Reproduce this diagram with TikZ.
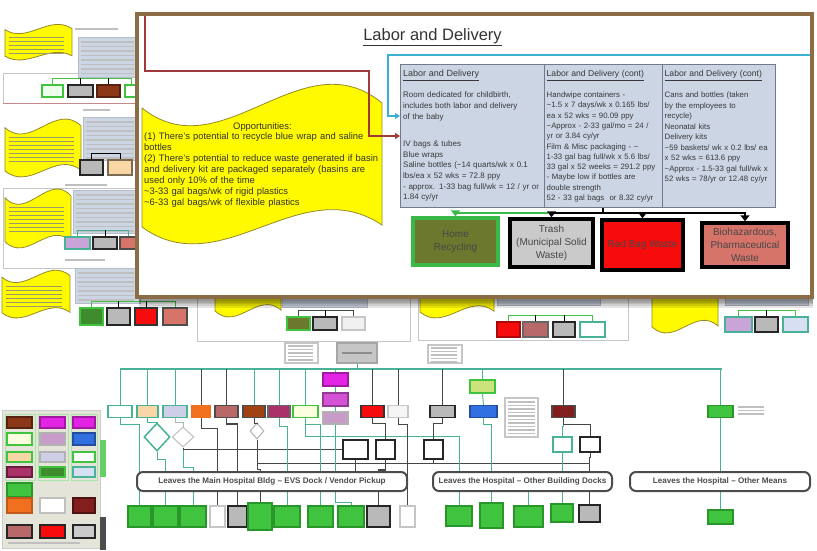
\documentclass[tikz,border=0pt]{standalone}
\usepackage{fontspec}
\setmainfont{Liberation Sans}
\usetikzlibrary{shapes.geometric,arrows.meta}

% colours
\definecolor{framebrown}{RGB}{140,108,68}
\definecolor{tablefill}{RGB}{204,213,228}
\definecolor{tableline}{RGB}{112,122,140}
\definecolor{wirered}{RGB}{160,56,60}
\definecolor{wirecyan}{RGB}{58,176,210}
\definecolor{wiregray}{RGB}{70,70,70}
\definecolor{homeolive}{RGB}{108,120,46}
\definecolor{homegreen}{RGB}{58,184,72}
\definecolor{trashgray}{RGB}{202,202,202}
\definecolor{bagred}{RGB}{246,12,12}
\definecolor{biosalmon}{RGB}{214,116,106}
\definecolor{oppyellow}{RGB}{255,250,0}
\definecolor{oppedge}{RGB}{150,138,40}
\definecolor{busteal}{RGB}{72,178,150}
\definecolor{bingreen}{RGB}{64,196,64}
\definecolor{binedge}{RGB}{40,150,40}
\definecolor{peach}{RGB}{248,214,166}
\definecolor{lavgray}{RGB}{206,206,230}
\definecolor{rose}{RGB}{184,104,104}
\definecolor{rust}{RGB}{160,66,18}
\definecolor{rustbrown}{RGB}{140,56,24}
\definecolor{plum}{RGB}{170,50,104}
\definecolor{cream}{RGB}{252,252,222}
\definecolor{royal}{RGB}{48,112,224}
\definecolor{maroon}{RGB}{130,30,30}
\definecolor{lilac}{RGB}{200,164,216}
\definecolor{paleblue}{RGB}{214,224,242}
\definecolor{leafgreen}{RGB}{62,140,46}
\definecolor{legendbg}{RGB}{228,228,216}
\definecolor{magA}{RGB}{228,36,228}
\definecolor{magB}{RGB}{212,82,212}
\definecolor{magC}{RGB}{200,156,200}
\definecolor{limefill}{RGB}{204,226,122}
\definecolor{tangerine}{RGB}{240,112,32}

\tikzset{
  tinybox/.style={draw,line width=1.1pt,inner sep=0pt},
  scribble/.style={black!25,line width=1.2pt},
  blobscribble/.style={olive!55!black!60,line width=0.8pt},
  blobfill/.style={fill=oppyellow,draw=oppedge,line width=0.8pt},
  tealwire/.style={busteal,line width=0.9pt},
  graywire/.style={wiregray,line width=0.9pt},
  leavesbox/.style={draw=black!70,line width=2pt,rounded corners=6pt,fill=white,
    minimum height=19,inner sep=0pt,text=black!70,
    font=\fontsize{8.1}{9}\selectfont\bfseries},
  tablebox/.style={draw=tableline,fill=tablefill,line width=0.8pt,inner sep=0pt,anchor=north west},
  tabtext/.style={anchor=north west,align=left,text width=170pt,inner sep=0pt,text=black!78},
  opptext/.style={anchor=north west,align=left,text width=250pt,inner sep=0pt,text=black!80,
    font=\fontsize{9.4}{10.9}\selectfont},
  binbox/.style={draw=black,line width=3.5pt,inner sep=1pt,align=center,text=black!72,
    font=\fontsize{10}{13.3}\selectfont},
  binwire/.style={black,line width=2.6pt},
}

\newcommand{\apx}{\textasciitilde}
\newcommand{\blobpath}{(0,21) .. controls (80,85) and (160,-50) .. (240,16)
  -- (240,138) .. controls (158,83) and (80,198) .. (0,140) -- cycle}
\newcommand{\oppblob}[5][]{\begin{scope}[shift={(#2,#3)},xscale=#4/240,yscale=#5/157]
  \filldraw[blobfill,#1] \blobpath; \end{scope}}
\newcommand{\scrib}[6][scribble]{\foreach \k in {0,...,#6}{\draw[#1] (#2,{#3+\k*#5}) -- (#4,{#3+\k*#5});}}

\begin{document}
\begin{tikzpicture}[x=1pt,y=-1pt,>={Triangle[length=6pt,width=9pt]}]
\useasboundingbox (0,0) rectangle (817,550);

% ---------- background: the whole waste map ----------
% panel outlines
\draw[gray!45] (3,73) rectangle (137,103);
\draw[wirered!60] (3,103) -- (137,103);
\draw[gray!45] (3,188) rectangle (137,268);
\draw[gray!45] (197,280) rectangle (410,341);
\draw[gray!45] (418,280) rectangle (628,340);

% small tables
\foreach \xa/\ya/\xb/\yb in {78/37/140/77,83/117/140/160,73/190/140/233,75/268/140/303,282/290/367/307,497/290/600/305,725/290/808/305}
  \draw[tableline!50,fill=tablefill] (\xa,\ya) rectangle (\xb,\yb);
\scrib{81}{42}{134}{4.5}{7}
\scrib{86}{122}{134}{4.5}{8}
\scrib{76}{195}{134}{4.5}{8}
\scrib{78}{273}{134}{4.5}{6}
\foreach \xa/\xb/\yy in {75/118/29,83/110/110,65/107/185,65/105/260}
  \draw[scribble] (\xa,\yy) -- (\xb,\yy);

% yellow notes
\oppblob{5}{25}{67}{35}
\oppblob{5}{120}{76}{57}
\oppblob{5}{190}{66}{58}
\oppblob{2}{271}{68}{47}
\oppblob{215}{260}{66}{57}
\oppblob{420}{262}{74}{56}
\oppblob{652}{275}{66}{58}
\scrib[blobscribble]{9}{37}{64}{4}{4}
\scrib[blobscribble]{9}{137}{74}{4}{6}
\scrib[blobscribble]{9}{207}{64}{4}{6}
\scrib[blobscribble]{6}{286}{62}{4}{5}

% bins of the small panels
\foreach \x/\y/\w/\h/\fc/\dc [count=\i] in {
  52.5/91/21/12/green!8/bingreen, 80.5/91/25/12/gray!55/black!85,
  108.5/91/23/12/rustbrown/rustbrown!60!black, 131/91/12/12/white/bingreen,
  91.5/167.5/23/15/gray!55/black!85, 120/167.5/24/15/peach/peach!50!black,
  77.5/243/25/12/lilac/busteal, 105/243/24/12/gray!55/black!85, 128/243/16/12/biosalmon/black!70,
  91.5/316.5/23/17/leafgreen/bingreen, 118.5/316.5/23/17/gray!55/black!85,
  146/316.5/22/17/bagred/black!80, 175/316.5/24/17/biosalmon/black!70,
  298.5/323.5/23/13/homeolive/bingreen, 325/323.5/24/13/gray!55/black!85, 353.5/323.5/23/13/gray!12/gray!45,
  508.5/329.5/23/15/bagred/bagred!70!black, 535.5/329.5/25/15/rose/black!60,
  564/329.5/22/15/gray!55/black!85, 592.5/329.5/25/15/white/busteal,
  738.5/324.5/27/15/lilac/busteal, 766.5/324.5/23/15/gray!55/black!85, 795.5/324.5/25/15/paleblue/busteal}
  \node[tinybox,fill=\fc,draw=\dc,minimum width=\w,minimum height=\h] (p\i) at (\x,\y) {};
\foreach \a/\b/\c in {1/4/bingreen,5/6/black,7/9/busteal,10/13/bingreen,14/16/wiregray,17/20/bingreen,21/23/bingreen}
  \draw[\c,line width=1pt] (p\a.north) -- ++(0,-6) -| (p\b.north);
\foreach \a in {2,3,8,11,12,15,18,19,22}
  \draw[line width=1pt] (p\a.north) -- ++(0,-6);

% legend
\draw[gray!40,fill=legendbg] (2,410) rectangle (100,548);
\foreach \xa/\xb in {5/35,38/68,71/97}
  \draw[bingreen!45] (\xa,414) rectangle (\xb,480);
\fill[bingreen!80] (100,440) rectangle (106,477);
\fill[black!70] (100,517) rectangle (106,550);
\foreach \x/\y/\w/\h/\fc/\dc [count=\i] in {
  19.5/422.5/25/11/rustbrown/rustbrown!60!black, 52.5/422.5/25/11/magA/magA!70!black, 84/422.5/22/11/magA/magA!70!black,
  19.5/439/25/12/cream/bingreen, 52.5/439/25/12/magC/gray!60, 84/439/22/12/royal/royal!70!black,
  19.5/457/25/10/peach/bingreen, 52.5/457/25/10/lavgray/gray!60, 84/457/22/10/white/bingreen,
  19.5/472/25/10/plum/plum!60!black, 52.5/472/25/10/leafgreen/bingreen, 84/472/22/10/paleblue/busteal,
  19.5/490/25/14/bingreen/binedge,
  19.5/505.5/25/15/tangerine/tangerine!80!black, 52.5/505.5/25/15/white/gray!50, 84/505.5/22/15/maroon/maroon!60!black,
  19.5/531.5/25/13/rose/black!85, 52.5/531.5/25/13/bagred/black!85, 84/531.5/22/13/trashgray/black!85}
  \node[tinybox,fill=\fc,draw=\dc,minimum width=\w,minimum height=\h] (leg\i) at (\x,\y) {};
\draw[scribble] (8,543) -- (80,543);

% collection bus
\coordinate (busL) at (120,369);
\coordinate (busR) at (722,369);
\draw[tealwire,line width=1.1pt] (busL) -- (busR);

% notes above the bus
\node[tinybox,draw=gray!45,fill=white,minimum width=33,minimum height=20] (note1) at (301.5,353) {};
\node[tinybox,draw=gray!70,fill=gray!45,minimum width=40,minimum height=20] (hub) at (357,353) {};
\node[tinybox,draw=gray!45,fill=white,minimum width=34,minimum height=18] (note2) at (445,354) {};
\node[tinybox,draw=gray!45,fill=white,minimum width=33,minimum height=39] (note3) at (521.5,417.5) {};
\scrib{288}{346}{313}{3.5}{4}
\scrib{431}{348}{457}{3.5}{4}
\scrib{508}{402}{535}{3.5}{9}
\scrib{738}{407}{764}{3.5}{2}
\draw[black!45,line width=1.5pt] ([xshift=6pt]hub.west) -- ([xshift=-6pt]hub.east);
\draw[tealwire] (hub.south) -- (hub.south |- busL);

% sources
\foreach \n/\x/\w/\fc/\dc in {a/120/24/white/busteal, b/147.5/21/peach/busteal, c/175/24/lavgray/busteal,
  d/201/18/tangerine/tangerine, e/226.5/23/rose/black!70, f/254/22/rust/black!70, g/279/22/plum/black!60,
  h/305.5/25/cream/bingreen, j/372.5/23/bagred/black!80, k/398/20/gray!8/gray!45, l/442.5/25/gray!55/black!85,
  m/483.5/27/royal/royal!70!black, n/563.5/23/maroon/black!70, o/720.5/25/bingreen/binedge}
  \node[tinybox,fill=\fc,draw=\dc,minimum width=\w,minimum height=12] (top\n) at (\x,411.5) {};
\foreach \n/\c in {a/tealwire,b/tealwire,c/tealwire,d/graywire,e/graywire,f/tealwire,g/tealwire,
  h/tealwire,j/graywire,k/graywire,l/graywire,n/graywire,o/tealwire}
  \draw[\c] (top\n.north) -- (top\n.north |- busL);

\node[tinybox,fill=magA,draw=magA!70!black,minimum width=25,minimum height=13] (mag1) at (335.5,379.5) {};
\node[tinybox,fill=magB,draw=magB!70!black,minimum width=25,minimum height=13] (mag2) at (335.5,399.5) {};
\node[tinybox,fill=magC,draw=gray!60,minimum width=25,minimum height=12] (mag3) at (335.5,418) {};
\node[tinybox,fill=limefill,draw=bingreen,minimum width=25,minimum height=13] (limebox) at (482.5,386.5) {};
\draw[tealwire] (mag1.north) -- (mag1.north |- busL);
\draw[tealwire] (mag1.south) -- (mag2.north);
\draw[tealwire] (mag2.south) -- (mag3.north);
\draw[tealwire] (limebox.north) -- (limebox.north |- busL);
\draw[tealwire] (limebox.south) -- (topm.north);

% decisions and sorting points
\node[diamond,draw=busteal,line width=1.5pt,fill=white,minimum width=26,minimum height=28,inner sep=0pt] (dia1) at (157,437) {};
\node[diamond,draw=gray!50,line width=1pt,fill=white,minimum width=22,minimum height=20,inner sep=0pt] (dia2) at (183,437) {};
\node[diamond,draw=gray!60,line width=1pt,fill=white,minimum width=14,minimum height=16,inner sep=0pt] (dia3) at (257,431) {};
\node[tinybox,fill=white,draw=black!85,line width=1.5pt,minimum width=25,minimum height=19] (kbox1) at (355.5,449.5) {};
\node[tinybox,fill=white,draw=black!85,line width=1.5pt,minimum width=19,minimum height=19] (kbox2) at (385.5,449.5) {};
\node[tinybox,fill=white,draw=black!85,line width=1.5pt,minimum width=19,minimum height=19] (kbox3) at (433.5,449.5) {};
\node[tinybox,fill=white,draw=busteal,line width=1.3pt,minimum width=19,minimum height=15] (tbox4) at (562.5,444.5) {};
\node[tinybox,fill=white,draw=black!85,line width=1.5pt,minimum width=20,minimum height=15] (kbox5) at (590,444.5) {};

% destinations
\foreach \n/\x/\y/\w/\h/\fc/\dc in {1/139.5/516.5/23/21/bingreen/binedge, 2/165.5/516.5/25/21/bingreen/binedge,
  3/193/516.5/26/21/bingreen/binedge, 4/217.5/516.5/15/21/white/gray!45, 5/237.5/516.5/19/21/gray!55/black!85,
  6/260/516.5/24/27/bingreen/binedge, 7/287/516.5/26/21/bingreen/binedge, 8/320.5/516.5/25/21/bingreen/binedge,
  9/351/516.5/26/21/bingreen/binedge, 10/378.5/516.5/23/21/gray!55/black!85, 11/407.5/516.5/15/21/white/gray!45,
  12/459/516/26/20/bingreen/binedge, 13/491.5/515.5/23/25/bingreen/binedge, 14/528.5/516.5/29/21/bingreen/binedge,
  15/562/513/22/18/bingreen/binedge, 16/589.5/513.5/21/17/gray!55/black!85, 17/720.5/517/25/14/bingreen/binedge}
  \node[tinybox,fill=\fc,draw=\dc,minimum width=\w,minimum height=\h] (bot\n) at (\x,\y) {};

% flows
\draw[tealwire] (topa.south) -- ++(0,6) -| (bot1.north);
\draw[tealwire] (topb.south) -- ++(0,4) -| (dia1.north);
\draw[tealwire] (dia1.south) -- ++(0,8) -| (bot2.north);
\draw[gray!60] (topc.south) -- ++(0,4) -| (dia2.north);
\draw[tealwire] (dia2.south) -- ++(0,20) -| (bot3.north);
\draw[graywire] (dia2.south) |- (kbox1.west);
\draw[graywire] (topd.south) -- ++(0,10) -| (bot4.north);
\draw[graywire,line width=1.6pt] (tope.south) -- ++(0,6) -| (bot5.north);
\draw[graywire] (topf.south) -- ++(0,5) -| (dia3.north);
\draw[graywire] (dia3.south) -- ++(0,30) -| (bot6.north);
\draw[graywire] (dia3.south) -- ++(0,24) -| (kbox3.south);
\draw[graywire] (kbox3.south) -- ++(0,4) -| (bot16.north);
\draw[tealwire] (topg.south) -- ++(0,8) -| (bot7.north);
\draw[tealwire] (toph.south) -- ++(0,6) -| (bot8.north);
\draw[tealwire] (toph.south) -- ++(0,18) -| (bot12.north);
\draw[tealwire] (mag3.south) -- ++(0,78) -| (bot9.north);
\draw[graywire] (topj.south) -- ++(0,5) -| (kbox2.north);
\draw[graywire,line width=1.6pt] (kbox2.south) -- ++(0,10) -| (bot10.north);
\draw[graywire] (topk.south) -- ++(0,6) -| (bot11.north);
\draw[graywire] (topl.south) -- ++(0,5) -| (kbox3.north);
\draw[tealwire] (topm.south) -- ++(0,6) -| (bot13.north);
\draw[tealwire] (topn.south) -- ++(0,8) -| (tbox4.north);
\draw[graywire] (topn.south) -- ++(0,6) -| (kbox5.north);
\draw[tealwire] (tbox4.south) -- ++(0,5) -| (bot15.north);
\draw[graywire] (kbox5.south) -- ++(0,5) -| (bot16.north);
\draw[tealwire] (topo.south) -- (bot17.north);

% how the waste leaves
\node[leavesbox,minimum width=270] (leaves1) at (272,481.5) {Leaves the Main Hospital Bldg -- EVS Dock / Vendor Pickup};
\node[leavesbox,minimum width=179] (leaves2) at (522.5,481.5) {Leaves the Hospital -- Other Building Docks};
\node[leavesbox,minimum width=180] (leaves3) at (720,481.5) {Leaves the Hospital -- Other Means};
\draw[graywire] (kbox1.south) -- (kbox1.south |- leaves1.north);
\draw[tealwire] (leaves2.south -| bot14) -- (bot14.north);

% ---------- callout: Labor and Delivery ----------
% soft shadow under the callout
\foreach \k in {0,...,5}
  \fill[black,opacity=0.1] (139,297) rectangle (813,{299+\k*1.8});
\draw[framebrown,line width=4pt,fill=white] (137,14) rectangle (812,297);
\coordinate (redtop) at (145,16);
\coordinate (cyanend) at (810,55);

\node[font=\fontsize{16.5}{20}\selectfont,text=black!80,inner sep=0pt] (title) at (432.5,37) {\underline{Labor and Delivery}};

% opportunities note
\oppblob{142}{87}{240}{157}
\node[opptext] (opp) at (144,122) {\hspace*{89pt}Opportunities:\\
(1) There's potential to recycle blue wrap and saline\\
bottles\\
(2) There's potential to reduce waste generated if basin\\
and delivery kit are packaged separately (basins are\\
used only 10\% of the time\\
\apx 3-33 gal bags/wk of rigid plastics\\
\apx 6-33 gal bags/wk of flexible plastics};

% waste table
\node[tablebox,minimum width=375,minimum height=143] (tbl) at (400,64) {};
\draw[tableline,line width=1pt] ([xshift=144pt]tbl.north west) -- ([xshift=144pt]tbl.south west);
\draw[tableline,line width=1pt] ([xshift=262pt]tbl.north west) -- ([xshift=262pt]tbl.south west);
\node[tabtext,font=\fontsize{8}{10.6}\selectfont] (colA) at ([xshift=3pt,yshift=-6pt]tbl.north west)
  {{\fontsize{9}{10.6}\selectfont\underline{Labor and Delivery}}\\[10.6pt]
   Room dedicated for childbirth,\\
   includes both labor and delivery\\
   of the baby\\[17pt]
   IV bags \& tubes\\
   Blue wraps\\
   Saline bottles (\apx 14 quarts/wk x 0.1\\
   lbs/ea x 52 wks = 72.8 ppy\\
   - approx. 1-33 bag full/wk = 12 / yr or\\
   1.84 cy/yr};
\node[tabtext,font=\fontsize{7.8}{10.3}\selectfont] (colB) at ([xshift=146.5pt,yshift=-6.5pt]tbl.north west)
  {{\fontsize{8.6}{10.3}\selectfont\underline{Labor and Delivery (cont)}}\\[10.3pt]
   Handwipe containers -\\
   \apx 1.5 x 7 days/wk x 0.165 lbs/\\
   ea x 52 wks = 90.09 ppy\\
   \apx Approx - 2-33 gal/mo = 24 /\\
   yr or 3.84 cy/yr\\
   Film \& Misc packaging - \apx\\
   1-33 gal bag full/wk x 5.6 lbs/\\
   33 gal x 52 weeks = 291.2 ppy\\
   - Maybe low if bottles are\\
   double strength\\
   52 - 33 gal bags\ \ or 8.32 cy/yr};
\node[tabtext,font=\fontsize{7.8}{10.5}\selectfont] (colC) at ([xshift=264.5pt,yshift=-6.5pt]tbl.north west)
  {{\fontsize{8.6}{10.5}\selectfont\underline{Labor and Delivery (cont)}}\\[10.5pt]
   Cans and bottles (taken\\
   by the employees to\\
   recycle)\\
   Neonatal kits\\
   Delivery kits\\
   \apx 59 baskets/ wk x 0.2 lbs/ ea\\
   x 52 wks = 613.6 ppy\\
   \apx Approx - 1.5-33 gal full/wk x\\
   52 wks = 78/yr or 12.48 cy/yr};

% links from the overview
\draw[wirered,line width=1.5pt,-{Triangle[length=5pt,width=6pt]}] (redtop) |- ([xshift=-31pt,yshift=-7pt]tbl.north west) |- ([yshift=-72pt]tbl.north west);
\draw[wirecyan,line width=2pt,-{Triangle[length=5pt,width=6pt]}] (cyanend) -| ([xshift=-12pt,yshift=-52pt]tbl.north west) -- ([yshift=-52pt]tbl.north west);

% waste streams
\node[binbox,draw=homegreen,fill=homeolive,minimum width=85,minimum height=47] (home) at (455.5,241.5) {Home\\Recycling};
\node[binbox,fill=trashgray,minimum width=83,minimum height=48] (trash) at (551.5,243) {Trash\\(Municipal Solid\\Waste)};
\node[binbox,fill=bagred,minimum width=81,minimum height=50] (redbag) at (642.5,245) {Red Bag Waste};
\node[binbox,fill=biosalmon,minimum width=86,minimum height=44] (biohaz) at (745,245) {Biohazardous,\\Pharmaceutical\\Waste};

\coordinate (split) at (603,213);
\coordinate (greenjoin) at (548,213);
\draw[binwire] (tbl.south -| split) -- (split);
\draw[binwire,homegreen,->] (greenjoin) -| (home.north);
\foreach \b in {trash,redbag,biohaz}
  \draw[binwire,->] (split) -| (\b.north);
\end{tikzpicture}
\end{document}
